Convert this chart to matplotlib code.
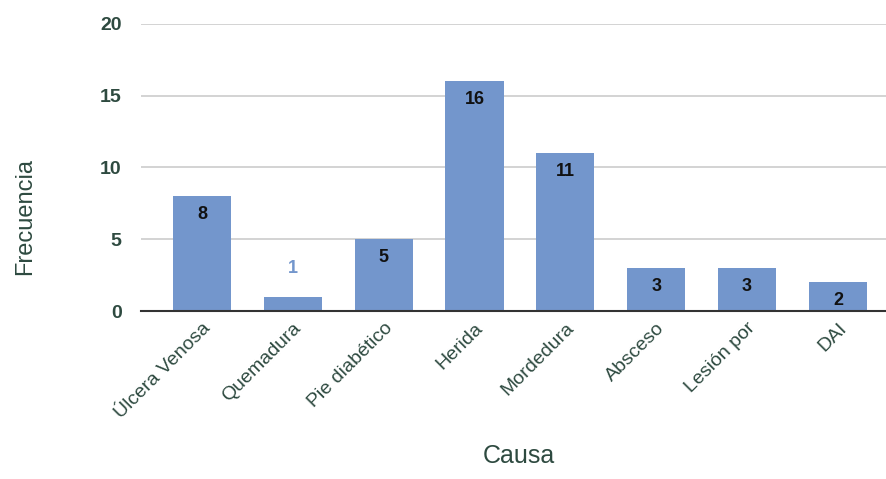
import matplotlib
matplotlib.use("Agg")
import matplotlib.pyplot as plt

causas = ["Úlcera Venosa", "Quemadura", "Pie diabético", "Herida",
          "Mordedura", "Absceso", "Lesión por", "DAI"]
frecuencia = [8, 1, 5, 16, 11, 3, 3, 2]
y_ticks = [0, 5, 10, 15, 20]

bar_color = "#7396cc"
text_color = "#2e4a40"

plt.rcParams["font.family"] = ["Liberation Sans", "DejaVu Sans"]

fig = plt.figure(figsize=(8.87, 4.79), dpi=100)
ax = fig.add_axes([0.159, 0.3507, 0.841, 0.5993])

x = list(range(len(causas)))
bars = ax.bar(x, frecuencia, width=0.64, color=bar_color, zorder=3)

ax.set_xlim(-0.67, 7.54)
ax.set_ylim(0, 20)
ax.set_yticks(y_ticks)
ax.set_yticklabels([str(t) for t in y_ticks], fontsize=14, fontweight="bold",
                   color=text_color)
ax.grid(axis="y", color="#cccccc", linewidth=1.2, zorder=0)
ax.tick_params(axis="y", length=0, pad=14)
ax.tick_params(axis="x", length=0, pad=6)

ax.set_xticks(x)
ax.set_xticklabels(causas, rotation=45, ha="right", rotation_mode="anchor",
                   fontsize=14, color=text_color)

for s in ["top", "right", "left"]:
    ax.spines[s].set_visible(False)
ax.spines["bottom"].set_color("#333333")
ax.spines["bottom"].set_linewidth(1.5)
ax.spines["bottom"].set_zorder(4)

for xi, v in zip(x, frecuencia):
    if v >= 2:
        ax.annotate(str(v), (xi, v), xytext=(0, -13), textcoords="offset points",
                    ha="center", va="center", fontsize=13, fontweight="bold",
                    color="#111111", zorder=5)
    else:
        ax.annotate(str(v), (xi, v), xytext=(0, 20), textcoords="offset points",
                    ha="center", va="center", fontsize=13, fontweight="bold",
                    color=bar_color, zorder=5)

fig.text(0.028, 0.549, "Frecuencia", rotation=90, ha="center", va="center",
         fontsize=17, color=text_color)
fig.text(0.585, 0.023, "Causa", ha="center", va="bottom",
         fontsize=18, color=text_color)

fig.savefig("out.png", dpi=100)
